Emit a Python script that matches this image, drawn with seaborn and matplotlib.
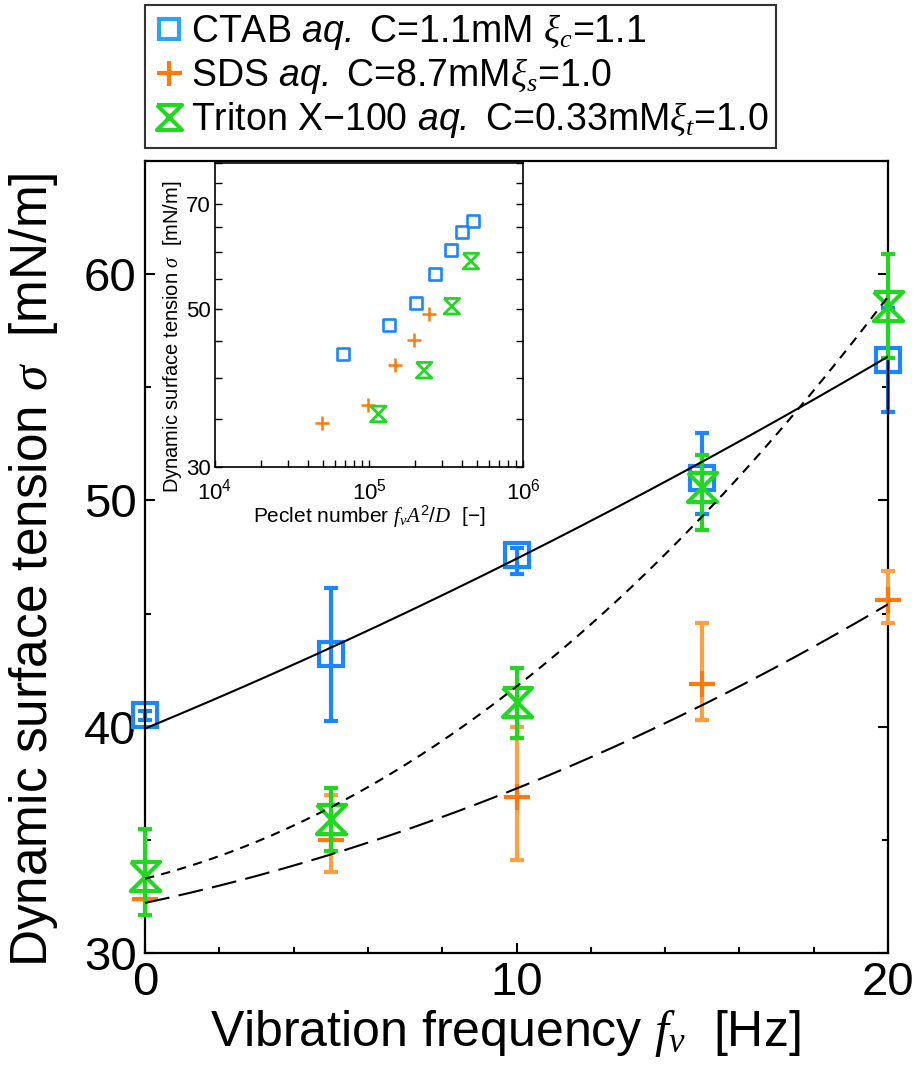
import numpy as np
import pandas as pd
import seaborn as sns
import matplotlib
matplotlib.use("Agg")
import matplotlib.pyplot as plt
from matplotlib.path import Path
from matplotlib.lines import Line2D
from matplotlib.ticker import FixedLocator, NullFormatter, FuncFormatter, LogLocator

# ---------------- data ----------------
freq = [0, 5, 10, 15, 20]

ctab_sigma = [40.5, 43.2, 47.6, 51.0, 56.2]
ctab_err_lo = [0.2, 2.95, 0.85, 1.6, 2.3]
ctab_err_hi = [0.2, 2.95, 0.3, 2.0, 2.3]

sds_sigma = [32.4, 35.0, 36.9, 41.9, 45.6]
sds_err_lo = [0.0, 1.4, 2.8, 1.6, 1.0]
sds_err_hi = [0.0, 2.0, 3.1, 2.7, 1.3]

triton_sigma = [33.4, 35.9, 41.1, 50.6, 58.6]
triton_err_lo = [1.7, 1.4, 1.6, 1.9, 2.3]
triton_err_hi = [2.1, 1.4, 1.5, 1.4, 2.3]

# fitted-curve readings (fit lines drawn as quadratic fits of these)
curve_f = [0, 5, 10, 15, 20]
ctab_curve = [39.9, 43.5, 47.5, 51.6, 56.4]
sds_curve = [32.2, 34.4, 37.2, 41.0, 45.4]
triton_curve = [33.2, 36.7, 41.5, 49.4, 59.0]

# inset: Peclet number vs sigma
ctab_pe = [6.74e4, 1.356e5, 2.02e5, 2.70e5, 3.39e5, 4.04e5, 4.76e5]
ctab_pe_sigma = [43.2, 47.5, 50.9, 56.0, 60.5, 64.0, 66.4]
sds_pe = [4.93e4, 9.9e4, 1.475e5, 1.96e5, 2.465e5]
sds_pe_sigma = [34.6, 36.6, 41.7, 45.2, 49.2]
triton_pe = [1.15e5, 2.28e5, 3.45e5, 4.59e5]
triton_pe_sigma = [35.6, 41.0, 50.4, 58.3]

legend_labels = [
    r"CTAB $\mathsf{aq.}$ C=1.1mM $\xi_c$=1.1",
    r"SDS $\mathsf{aq.}$ C=8.7mM$\xi_s$=1.0",
    r"Triton X$-$100 $\mathsf{aq.}$ C=0.33mM$\xi_t$=1.0",
]

# ---------------- style ----------------
sns.set_theme(style="ticks")
plt.rcParams["font.family"] = ["Liberation Sans", "DejaVu Sans"]
plt.rcParams["mathtext.fontset"] = "custom"
plt.rcParams["mathtext.rm"] = "Liberation Sans"
plt.rcParams["mathtext.it"] = "Liberation Serif:italic"
plt.rcParams["mathtext.sf"] = "Liberation Sans:italic"
plt.rcParams["mathtext.bf"] = "Liberation Sans:bold"
for k in ["text.color", "axes.labelcolor", "xtick.color", "ytick.color", "axes.edgecolor"]:
    plt.rcParams[k] = "black"
plt.rcParams["axes.linewidth"] = 1.6

BLUE = "#1a86ff"
ORANGE = "#ff7a0a"
ORANGE_L = "#ffa040"
GREEN = "#1fd81f"

hourglass = Path([(-1, 1), (1, 1), (-1, -1), (1, -1), (-1, 1)],
                 [Path.MOVETO, Path.LINETO, Path.LINETO, Path.LINETO, Path.LINETO])

fig = plt.figure(figsize=(9.2, 10.79), dpi=100)
W, H = 920, 1079
ax = fig.add_axes([145 / W, 1 - 953 / H, (888 - 145) / W, (953 - 161) / H])

# error bars + markers
series = [
    (ctab_sigma, ctab_err_lo, ctab_err_hi, BLUE, BLUE, "s", 17),
    (sds_sigma, sds_err_lo, sds_err_hi, ORANGE_L, ORANGE, "+", 19),
    (triton_sigma, triton_err_lo, triton_err_hi, GREEN, GREEN, hourglass, 21),
]
for z, (sig, lo, hi, ecol, mcol, mk, ms) in enumerate(series):
    eb = ax.errorbar(freq, sig, yerr=[lo, hi], fmt="none", ecolor=ecol,
                     elinewidth=3, capsize=5, capthick=3, zorder=2 + z)
    for child in eb.get_children():
        child.set_clip_on(False)
    for art in eb.lines:
        if art is None:
            continue
        if isinstance(art, (list, tuple)):
            for a in art:
                a.set_clip_on(False)
        else:
            art.set_clip_on(False)
    ax.plot(freq, sig, ls="none", marker=mk, ms=ms, mfc="none", mec=mcol,
            mew=3, zorder=2 + z, clip_on=False)

# fit curves
f_dense = np.linspace(0, 20, 200)
styles = [(ctab_curve, "-"), (sds_curve, (0, (12, 4.5))), (triton_curve, (0, (4.5, 3.5)))]
for vals, ls in styles:
    coef = np.polyfit(curve_f, vals, 2)
    df = pd.DataFrame({"f": f_dense, "s": np.polyval(coef, f_dense)})
    sns.lineplot(data=df, x="f", y="s", ax=ax, color="black", lw=1.5,
                 linestyle=ls, zorder=6)

ax.set_xlim(0, 20)
ax.set_ylim(30, 65)
ax.xaxis.set_major_locator(FixedLocator([0, 10, 20]))
ax.xaxis.set_minor_locator(FixedLocator(np.arange(0, 21, 2)))
ax.yaxis.set_major_locator(FixedLocator([30, 40, 50, 60]))
ax.yaxis.set_minor_locator(FixedLocator([35, 45, 55, 65]))
ax.tick_params(which="both", direction="in", left=True, right=True, top=False,
               bottom=True, width=1.5, colors="black")
ax.tick_params(which="major", length=7, labelsize=34, pad=6)
ax.tick_params(which="minor", length=4)
ax.set_xlabel(r"Vibration frequency $f_v$  [Hz]", fontsize=36)
ax.set_ylabel(r"Dynamic surface tension $\sigma$  [mN/m]", fontsize=37)
ax.xaxis.set_label_coords(0.4845, -0.07)
ax.yaxis.set_label_coords(-0.114, 0.484)
for sp in ax.spines.values():
    sp.set_visible(True)
    sp.set_linewidth(1.6)
    sp.set_color("black")

# legend
handles = [
    Line2D([], [], ls="none", marker="s", ms=15, mfc="none", mec="#2aa6f0", mew=3),
    Line2D([], [], ls="none", marker="+", ms=18, mec=ORANGE, mew=3),
    Line2D([], [], ls="none", marker=hourglass, ms=18, mfc="none", mec=GREEN, mew=3),
]
leg = fig.legend(handles, legend_labels, loc="upper left",
                 bbox_to_anchor=(145 / W, 1 - 5 / H), fontsize=27,
                 frameon=True, fancybox=False, edgecolor="black",
                 handlelength=0.9, handletextpad=0.12, borderpad=0.2,
                 labelspacing=0.1, borderaxespad=0)
leg.get_frame().set_linewidth(1.5)

# ---------------- inset ----------------
axi = fig.add_axes([215 / W, 1 - 467 / H, (523 - 215) / W, (467 - 163) / H])
axi.set_xscale("log")
axi.set_yscale("log")
sns.scatterplot(x=ctab_pe, y=ctab_pe_sigma, ax=axi, marker="s", s=75,
                facecolor="none", edgecolor=BLUE, linewidth=1.9, zorder=3)
sns.scatterplot(x=sds_pe, y=sds_pe_sigma, ax=axi, marker="+", s=115,
                color=ORANGE, linewidth=1.8, zorder=3)
sns.scatterplot(x=triton_pe, y=triton_pe_sigma, ax=axi, marker=hourglass, s=125,
                facecolor="none", edgecolor=GREEN, linewidth=2, zorder=4)
axi.set_xlim(1e4, 1e6)
axi.set_ylim(30, 80)
axi.yaxis.set_major_locator(FixedLocator([30, 50, 70]))
axi.yaxis.set_minor_locator(FixedLocator([35, 40, 45, 55, 60, 65, 75, 80]))
axi.yaxis.set_major_formatter(FuncFormatter(lambda v, p: f"{v:.0f}"))
axi.yaxis.set_minor_formatter(NullFormatter())
axi.xaxis.set_major_locator(LogLocator(base=10, numticks=5))
axi.xaxis.set_minor_locator(LogLocator(base=10, subs=np.arange(2, 10), numticks=20))
axi.xaxis.set_minor_formatter(NullFormatter())
axi.tick_params(which="both", direction="in", left=True, right=True, top=False,
                bottom=True, width=1.0, length=5, labelsize=16, colors="black")
axi.tick_params(axis="y", pad=3)
axi.tick_params(axis="x", pad=8)
axi.set_xlabel(r"Peclet number $f_vA^2/D$  [$-$]", fontsize=15, labelpad=0)
axi.set_ylabel(r"Dynamic surface tension $\sigma$  [mN/m]", fontsize=14.5)
axi.yaxis.set_label_coords(-0.1, 0.43)
for sp in axi.spines.values():
    sp.set_visible(True)
    sp.set_linewidth(1.2)
    sp.set_color("black")

fig.savefig("out.png", dpi=100)
